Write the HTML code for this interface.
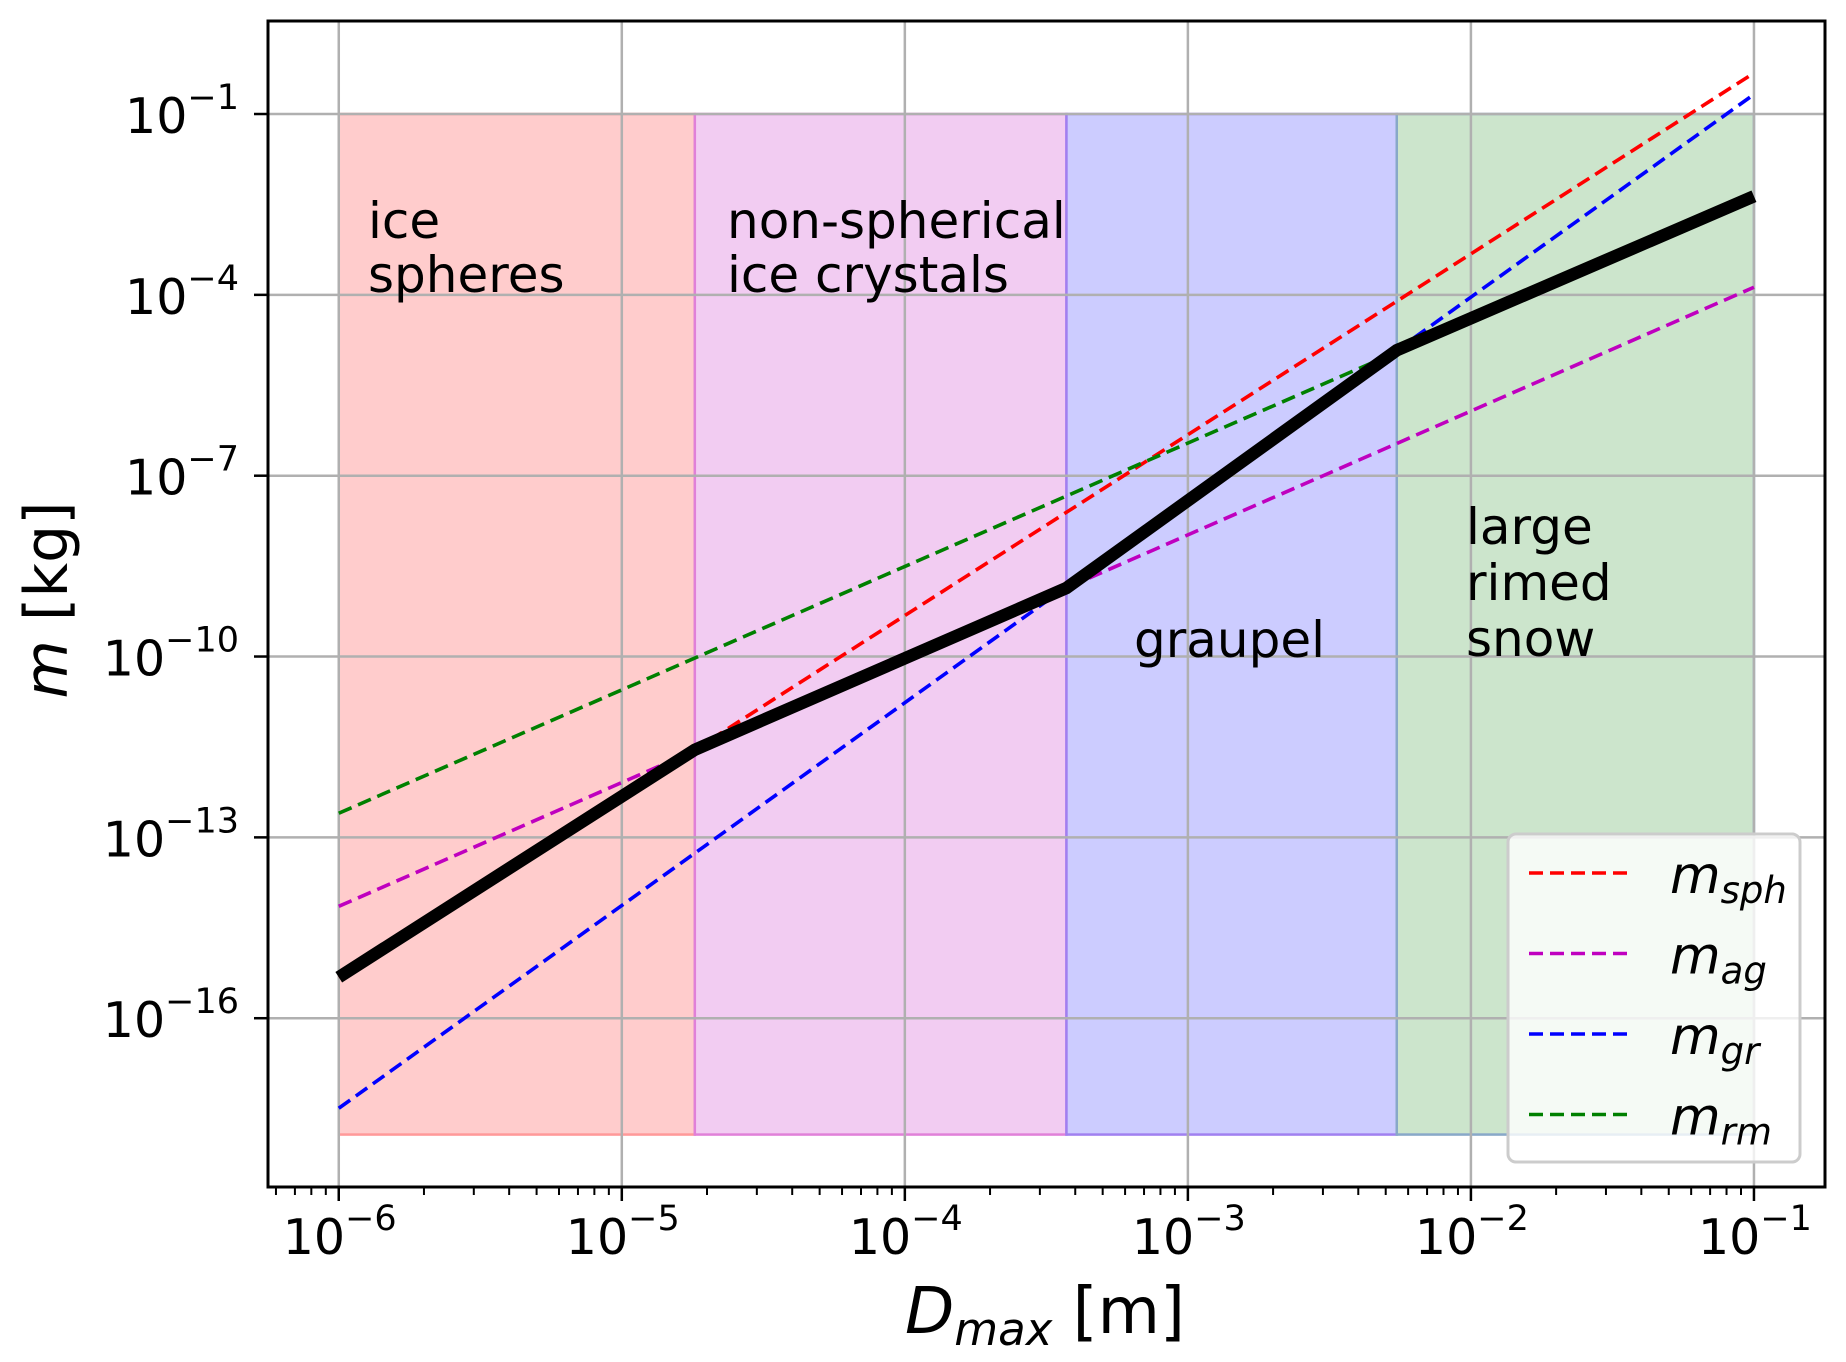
<!DOCTYPE html>
<html><head><meta charset="utf-8">
<style>
html,body{margin:0;padding:0;background:#fff;}
svg{display:block;font-family:"DejaVu Sans","Liberation Sans",sans-serif;}
</style></head>
<body>
<svg id="chart" width="1846" height="1362" viewBox="0 0 1846 1362" xmlns="http://www.w3.org/2000/svg">
<rect width="1846" height="1362" fill="#fff"/>
<g id="regions"></g>
<g id="grid"></g>
<g id="series"></g>
<g id="axes"></g>
<g id="labels" font-size="50" fill="#000">
  <text x="368" y="238">ice</text>
  <text x="368" y="292">spheres</text>
  <text x="727" y="238">non-spherical</text>
  <text x="727" y="292">ice crystals</text>
  <text x="1134" y="657">graupel</text>
  <text x="1466" y="544">large</text>
  <text x="1466" y="600">rimed</text>
  <text x="1466" y="656">snow</text>
</g>
<g id="legend"></g>
<text x="905" y="1333" font-size="64"><tspan font-style="italic">D</tspan><tspan font-style="italic" font-size="45" dy="12">max</tspan><tspan dy="-12"> [m]</tspan></text>
<text transform="translate(67,600) rotate(-90)" text-anchor="middle" font-size="60"><tspan font-style="italic">m</tspan> [kg]</text>
</svg>
<script>
// ---- data ----
const xTickExps = [-6, -5, -4, -3, -2, -1];
const yTickExps = [-1, -4, -7, -10, -13, -16];
const regionNames = ["ice-spheres", "non-spherical", "graupel", "large-rimed-snow"];
const regionBounds = [-6, -4.742, -3.429, -2.262, -1];   // log10 D
const regionColors = ["#ffcccc", "#f2ccf2", "#ccccff", "#cce5cc"];
const regionEdge = ["#ff9999", "#e080d8", "#a080f0", "#88a8c8"];
const regionMassTop = -1, regionMassBottom = -17.93;
const seriesNames = ["m_sph", "m_ag", "m_gr", "m_rm"];
const seriesColors = ["#ff0000", "#bf00bf", "#0000ff", "#008000"];
const seriesSlopes = [3.0, 2.054, 3.364, 2.047];
const seriesIntercepts = [2.68, -1.82, 2.69, -0.318]; // log10 m at D=1 m
const seriesSubs = ["sph", "ag", "gr", "rm"];

// ---- axes ----
const X0 = 268, X1 = 1825, Y0 = 21, Y1 = 1187;
const xmin = -6.25, xmax = -0.749, ymin = -18.8, ymax = 0.543;
const sx = v => X0 + (v - xmin) / (xmax - xmin) * (X1 - X0);
const sy = v => Y1 - (v - ymin) / (ymax - ymin) * (Y1 - Y0);
const NS = "http://www.w3.org/2000/svg";
function mk(tag, attrs, parent) {
  const e = document.createElementNS(NS, tag);
  for (const k in attrs) e.setAttribute(k, attrs[k]);
  parent.appendChild(e); return e;
}
const gReg = document.getElementById('regions'), gGrid = document.getElementById('grid'),
      gSer = document.getElementById('series'), gAx = document.getElementById('axes'),
      gLeg = document.getElementById('legend');

for (let i = 0; i < regionNames.length; i++) {
  const r = mk('rect', {x: sx(regionBounds[i]), y: sy(regionMassTop), width: sx(regionBounds[i+1]) - sx(regionBounds[i]),
    height: sy(regionMassBottom) - sy(regionMassTop), fill: regionColors[i], stroke: regionEdge[i], 'stroke-width': 2.5}, gReg);
  
  
}
xTickExps.forEach(e => {
  const l = mk('line', {x1: sx(e), x2: sx(e), y1: Y0, y2: Y1, stroke: '#b0b0b0', 'stroke-width': 2.5}, gGrid);
  
  
});
yTickExps.forEach(e => {
  const l = mk('line', {x1: X0, x2: X1, y1: sy(e), y2: sy(e), stroke: '#b0b0b0', 'stroke-width': 2.5}, gGrid);
  
  
});
for (let i = 0; i < seriesNames.length; i++) {
  const xa = regionBounds[0], xb = (i === 3) ? regionBounds[3] : regionBounds[4];
  const f = x => seriesIntercepts[i] + seriesSlopes[i] * x;
  const l = mk('line', {x1: sx(xa), y1: sy(f(xa)), x2: sx(xb), y2: sy(f(xb)), stroke: seriesColors[i],
    'stroke-width': 3.6, 'stroke-dasharray': '14 7'}, gSer);
  
  
}
const pts = [];
for (let i = 0; i < 4; i++) {
  const f = x => seriesIntercepts[i] + seriesSlopes[i] * x;
  if (i === 0) pts.push([sx(regionBounds[0]), sy(f(regionBounds[0]))]);
  pts.push([sx(regionBounds[i+1]), sy(f(regionBounds[i+1]))]);
}
const pl = mk('polyline', {points: pts.map(p => p.join(',')).join(' '), fill: 'none', stroke: '#000', 'stroke-width': 12.5, 'stroke-linejoin': 'miter'}, gSer);



const fr = mk('rect', {x: X0, y: Y0, width: X1 - X0, height: Y1 - Y0, fill: 'none', stroke: '#000', 'stroke-width': 3}, gAx);


for (let d = -7; d <= -1; d++) {
  for (let k = 1; k <= 9; k++) {
    const v = d + Math.log10(k);
    if (v < xmin || v > xmax) continue;
    const major = k === 1;
    const t = mk('line', {x1: sx(v), x2: sx(v), y1: Y1, y2: Y1 + (major ? 14 : 8), stroke: '#000', 'stroke-width': major ? 2.5 : 2}, gAx);
    
    
  }
}
xTickExps.forEach(e => {
  const t = mk('text', {x: sx(e) - 56, y: 1254, 'font-size': 49}, gAx);
  
  
  t.innerHTML = '10<tspan font-size="35" dy="-24">\u2212' + (-e) + '</tspan>';
});
yTickExps.forEach(e => {
  const t = mk('line', {x1: X0 - 14, x2: X0, y1: sy(e), y2: sy(e), stroke: '#000', 'stroke-width': 2.5}, gAx);
  
  
  const tx = mk('text', {x: 239, y: sy(e) + 19, 'font-size': 49, 'text-anchor': 'end'}, gAx);
  
  
  tx.innerHTML = '10<tspan font-size="35" dy="-24">\u2212' + (-e) + '</tspan>';
});
const lb = mk('rect', {x: 1508, y: 834, width: 292, height: 328, rx: 8, fill: 'rgba(255,255,255,0.8)', stroke: '#cccccc', 'stroke-width': 3}, gLeg);


for (let i = 0; i < seriesNames.length; i++) {
  const y = 873 + i * 80.5;
  const l = mk('line', {x1: 1529, x2: 1629, y1: y, y2: y, stroke: seriesColors[i], 'stroke-width': 3.6, 'stroke-dasharray': '14 7'}, gLeg);
  
  
  const t = mk('text', {x: 1670, y: y + 20, 'font-size': 52, 'font-style': 'italic'}, gLeg);
  
  
  t.innerHTML = 'm<tspan font-size="37" dy="10">' + seriesSubs[i] + '</tspan>';
}
</script>
</body></html>
